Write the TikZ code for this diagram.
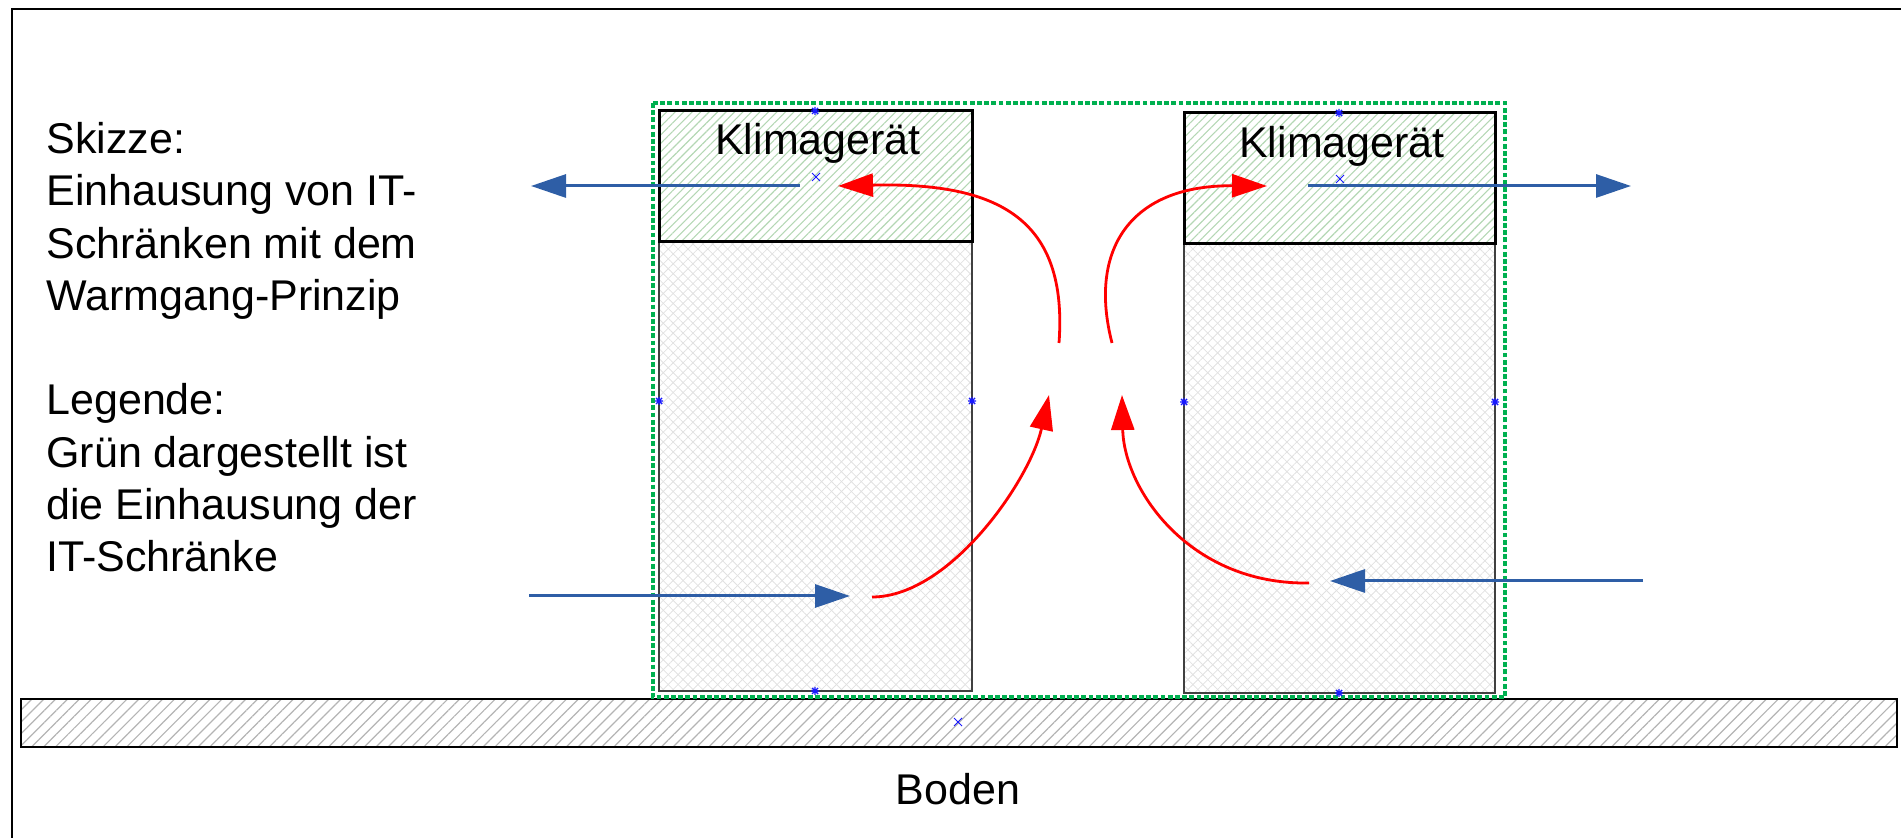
\documentclass[tikz,border=0pt]{standalone}
\usepackage{fontspec}
\setmainfont{Liberation Sans}
\usetikzlibrary{arrows.meta,patterns.meta}
\definecolor{encgreen}{RGB}{0,176,80}
\definecolor{flowblue}{RGB}{46,94,166}
\definecolor{hatchgreen}{RGB}{180,215,180}
\definecolor{hatchgray}{RGB}{180,180,180}
\definecolor{crossgray}{RGB}{225,225,225}
\definecolor{markblue}{RGB}{25,25,255}
\begin{document}
\begin{tikzpicture}[x=0.5pt,y=-0.5pt,
  txt/.style={font=\fontsize{21.5pt}{26pt}\selectfont, inner sep=0pt},
  klimahatch/.style={pattern={Lines[angle=45,distance=3pt,line width=0.55pt]}, pattern color=hatchgreen},
  floorhatch/.style={pattern={Lines[angle=45,distance=4.2pt,line width=0.6pt]}, pattern color=hatchgray},
  crossA/.style={pattern={Lines[angle=45,distance=3.5pt,line width=0.4pt]}, pattern color=crossgray},
  crossB/.style={pattern={Lines[angle=-45,distance=3.5pt,line width=0.4pt]}, pattern color=crossgray},
  tip/.style={-{Triangle[length=17.5pt,width=11.5pt]}},
  airblue/.style={tip, draw=flowblue, line width=1.5pt},
  airred/.style={tip, draw=red, line width=1.4pt},
  enclosure/.style={draw=encgreen, line width=1.6pt, dash pattern=on 2.4pt off 1.2pt},
]
\useasboundingbox (0,0) rectangle (1901,838);

% page frame
\draw[line width=1.2pt] (12,838) -- (12,9) -- (1901,9);

% floor slab
\draw[floorhatch] (21,699) rectangle (1897,747);
\draw[line width=1.4pt] (21,699) rectangle (1897,747);

% cabinet rows (lower part cross-hatched)
\foreach \xa/\xb/\ya/\yb in {659/972/242/691, 1184/1495/244/693}{
  \fill[crossA] (\xa,\ya) rectangle (\xb,\yb);
  \fill[crossB] (\xa,\ya) rectangle (\xb,\yb);
  \draw[line width=1pt, draw=black!75] (\xa,\ya) rectangle (\xb,\yb);
}
% air-conditioning units on top
\foreach \xa/\xb/\ya/\yb in {659/972/111/242, 1184/1495/113/244}{
  \fill[klimahatch] (\xa,\ya) rectangle (\xb,\yb);
  \draw[line width=1.5pt] (\xa,\ya) rectangle (\xb,\yb);
}

% enclosure of the cabinets
\draw[enclosure] (653,103) rectangle (1505,697);

% labels
\node[txt, anchor=base] (klimaL) at (818,155) {Klimagerät};
\node[txt, anchor=base] (klimaR) at (1342,158) {Klimagerät};
\node[txt, anchor=base] (boden) at (958,805) {Boden};
\node[txt, anchor=base west] (t1) at (46,154) {Skizze:};
\node[txt, anchor=base west] (t2) at (46,206) {Einhausung von IT-};
\node[txt, anchor=base west] (t3) at (46,258.5) {Schränken mit dem};
\node[txt, anchor=base west] (t4) at (46,311) {Warmgang-Prinzip};
\node[txt, anchor=base west] (t5) at (46,415) {Legende:};
\node[txt, anchor=base west] (t6) at (46,467.5) {Grün dargestellt ist};
\node[txt, anchor=base west] (t7) at (46,520) {die Einhausung der};
\node[txt, anchor=base west] (t8) at (46,572) {IT-Schränke};

% air flow end points
\coordinate (bl1) at (800,186);  \coordinate (bl2) at (531,186);
\coordinate (bl3) at (529,596);  \coordinate (bl4) at (850,596);
\coordinate (br1) at (1308,186); \coordinate (br2) at (1631,186);
\coordinate (br3) at (1643,581); \coordinate (br4) at (1330,581);
\coordinate (rl1) at (1059,343); \coordinate (rl2) at (838,186);
\coordinate (rl3) at (872,597);  \coordinate (rl4) at (1049,395);
\coordinate (rr1) at (1112,343); \coordinate (rr2) at (1267,186);
\coordinate (rr3) at (1309,583); \coordinate (rr4) at (1122,395);

% outside air (blue)
\draw[airblue] (bl1) -- (bl2);
\draw[airblue] (bl3) -- (bl4);
\draw[airblue] (br1) -- (br2);
\draw[airblue] (br3) -- (br4);

% warm aisle air (red)
\draw[airred] (rl1) .. controls (1068,220) and (1000,182) .. (rl2);
\draw[airred] (rl3) .. controls (950,597) and (1030,480) .. (rl4);
\draw[airred] (rr1) .. controls (1088,250) and (1130,185) .. (rr2);
\draw[airred] (rr3) .. controls (1190,585) and (1124,490) .. (rr4);

% connection point markers
\foreach \p in {(815,111),(659,401),(972,401),(815,691),(1339,113),(1184,402),(1495,402),(1339,693)}{
  \draw[markblue, line width=0.7pt] \p ++(-4,0) -- ++(8,0) \p ++(0,-4) -- ++(0,8)
    \p ++(-3,-3) -- ++(6,6) \p ++(-3,3) -- ++(6,-6);
}
\foreach \p in {(816,177),(1340,179),(958,722)}{
  \draw[markblue, line width=0.4pt] \p ++(-4,-4) -- ++(8,8) \p ++(-4,4) -- ++(8,-8);
}
\end{tikzpicture}
\end{document}
